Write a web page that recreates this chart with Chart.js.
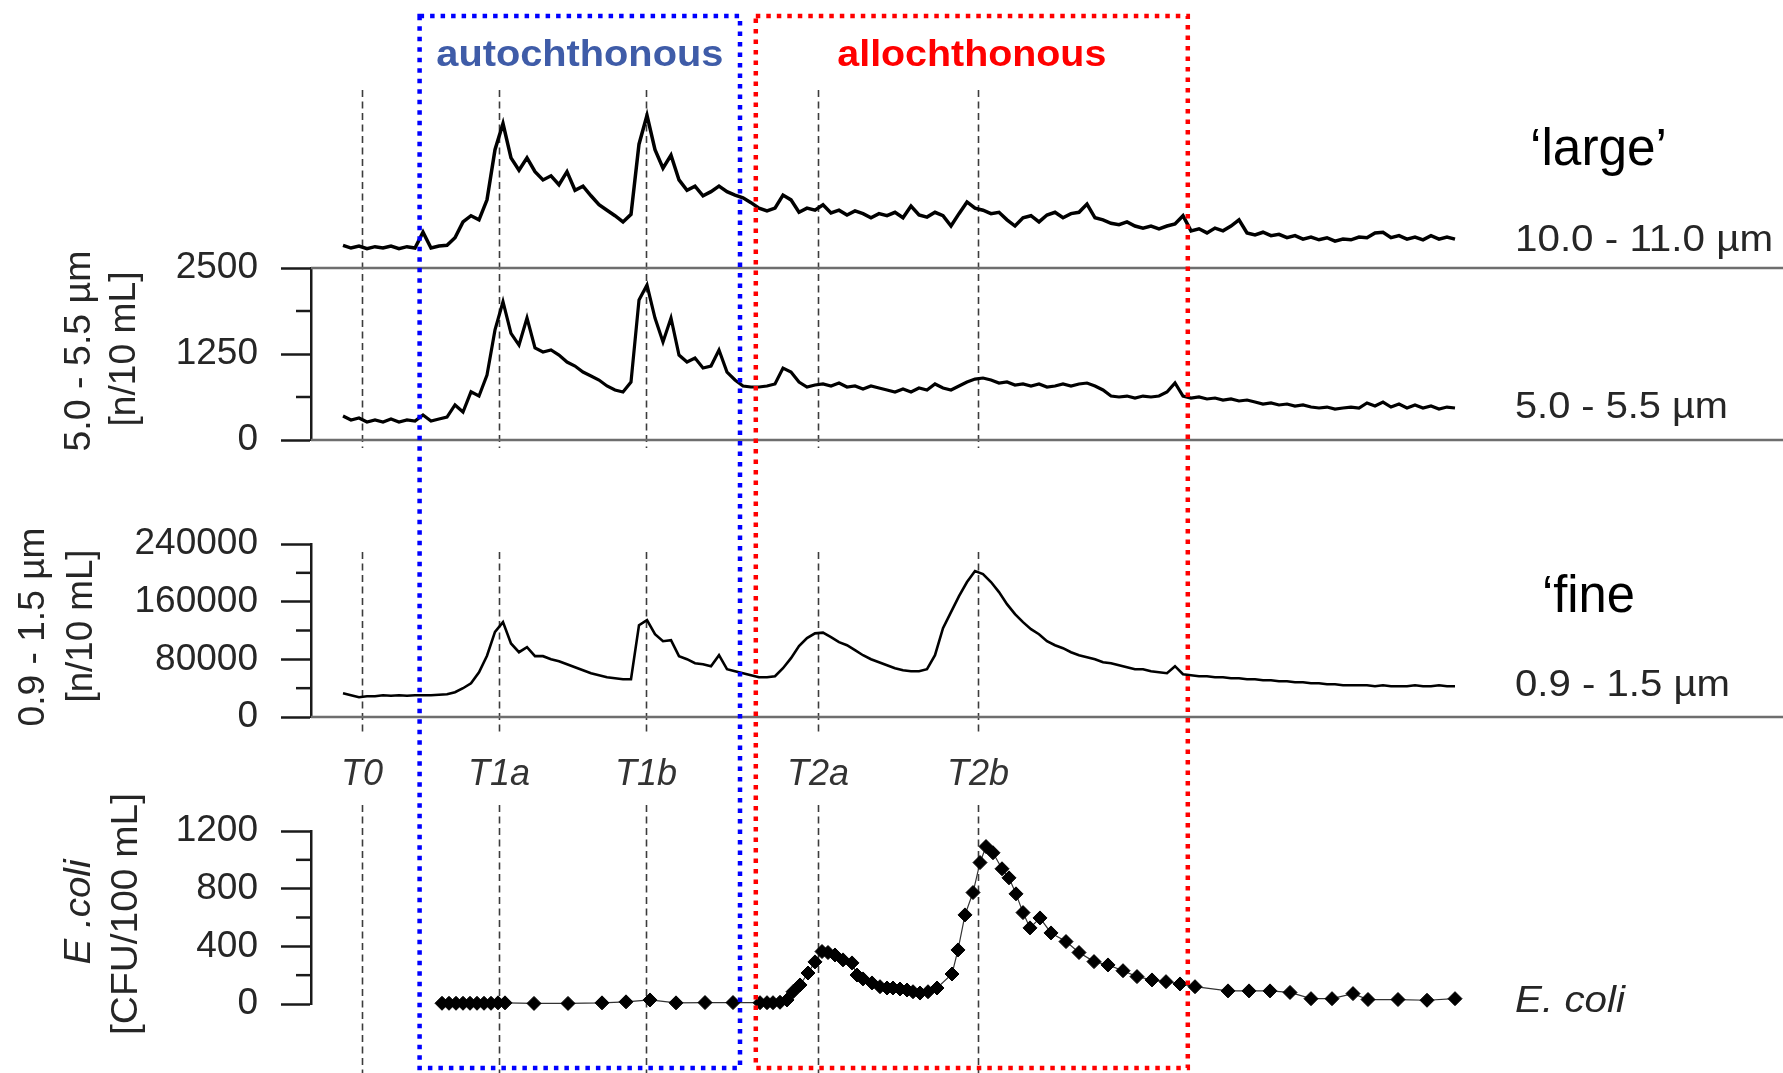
<!DOCTYPE html>
<html>
<head>
<meta charset="utf-8">
<script src="https://cdn.jsdelivr.net/npm/chart.js@4.4.1/dist/chart.umd.min.js"></script>
<style>
  html, body { margin: 0; padding: 0; background: #fff; }
  #chart { position: absolute; left: 0; top: 0; }
</style>
</head>
<body>
<canvas id="chart" width="1783" height="1073"></canvas>
<script>
// Tempo de amostragem (h) comum aos três contadores de partículas
const sampleHours = Array.from({ length: 140 }, (_, i) => +(i * 0.4).toFixed(1));

// 10.0 - 11.0 µm (sem eixo na figura)
const largeCounts = [
  33, 29, 32, 28, 31, 29, 32, 28, 31, 29,
  52, 29, 32, 33, 44, 67, 76, 70, 99, 172,
  210, 160, 142, 160, 140, 128, 134, 121, 140, 113,
  119, 105, 92, 84, 76, 67, 78, 180, 222, 172,
  145, 164, 128, 113, 119, 105, 111, 119, 111, 106,
  102, 95, 87, 83, 87, 106, 99, 81, 87, 84,
  92, 80, 84, 77, 83, 79, 73, 79, 76, 81,
  73, 90, 77, 74, 81, 76, 61, 79, 96, 87,
  84, 79, 81, 70, 61, 73, 76, 67, 77, 81,
  73, 79, 81, 93, 73, 70, 65, 63, 67, 61,
  58, 61, 57, 61, 64, 76, 54, 57, 51, 58,
  54, 61, 70, 51, 48, 52, 47, 49, 44, 47,
  42, 45, 41, 44, 39, 42, 41, 45, 44, 51,
  52, 44, 47, 42, 45, 41, 47, 42, 45, 42
];

// 5.0 - 5.5 µm [n/10 mL]
const mediumCounts = [
  349, 291, 320, 262, 291, 262, 305, 262, 291, 276,
  363, 276, 305, 334, 509, 407, 700, 640, 944, 1600,
  2010, 1550, 1380, 1773, 1337, 1279, 1308, 1235, 1133, 1075,
  988, 930, 872, 785, 727, 697, 843, 2034, 2252, 1773,
  1424, 1773, 1235, 1133, 1191, 1046, 1075, 1308, 988, 872,
  785, 770, 770, 785, 814, 1046, 988, 843, 770, 799,
  814, 785, 828, 770, 785, 741, 785, 756, 727, 697,
  741, 697, 756, 727, 814, 756, 727, 785, 843, 886,
  901, 872, 828, 843, 799, 814, 785, 814, 770, 785,
  814, 785, 814, 828, 785, 727, 639, 625, 639, 610,
  639, 625, 639, 697, 828, 639, 610, 625, 596, 610,
  581, 596, 567, 581, 552, 523, 538, 509, 523, 494,
  509, 479, 465, 479, 450, 465, 479, 465, 538, 494,
  552, 479, 523, 465, 509, 465, 494, 450, 479, 465
];

// 0.9 - 1.5 µm [n/10 mL]
const fineCounts = [
  32900, 30200, 27400, 28800, 28800, 30200, 29500, 30200, 29500, 30200,
  30200, 30200, 30900, 31500, 34300, 39900, 46800, 62000, 85000, 118000,
  131600, 102000, 89900, 96900, 84400, 84400, 80200, 77400, 73200, 69100,
  64900, 60700, 58000, 55200, 53800, 52400, 52400, 127400, 134400, 114900,
  105200, 106600, 84400, 80200, 74600, 73200, 70500, 85700, 66300, 63500,
  60700, 58000, 55200, 55200, 56600, 67700, 81600, 98300, 109400, 116000,
  117000, 110800, 103800, 99600, 92700, 85700, 80200, 76000, 71800, 67700,
  64900, 63500, 63500, 66300, 85700, 123300, 145500, 167700, 187200, 202500,
  198300, 187200, 173300, 156600, 142700, 131600, 121900, 114900, 105200, 99600,
  95500, 89900, 85700, 83000, 80200, 76000, 74600, 71800, 69100, 66300,
  66300, 63500, 62100, 60700, 70500, 59300, 58000, 56600, 56600, 55200,
  55200, 53800, 53800, 52400, 52400, 51000, 51000, 49600, 49600, 48200,
  48200, 46800, 46800, 45400, 45400, 44100, 44100, 44100, 44100, 42700,
  44100, 42700, 42700, 42700, 44100, 42700, 42700, 44100, 42700, 42700
];

// E. coli [CFU/100 mL]
const ecoliHours = [
  4.95, 5.3, 5.65, 6.0, 6.35, 6.7, 7.05, 7.4, 7.75, 8.1,
  9.55, 11.25, 12.95, 14.15, 15.35, 16.65, 18.1, 19.5,
  20.85, 21.2, 21.5, 21.85, 22.2, 22.5, 22.85, 23.25, 23.6, 23.95,
  24.25, 24.6, 25.0, 25.45, 25.7, 26.0, 26.45, 26.85, 27.2, 27.5,
  27.85, 28.2, 28.5, 28.85, 29.25, 29.7, 30.45, 30.75, 31.1, 31.5,
  31.85, 32.15, 32.5, 32.95, 33.3, 33.65, 34.0, 34.35, 34.85, 35.4,
  36.15, 36.8, 37.55, 38.25, 39.0, 39.7, 40.45, 41.15, 41.85, 42.6,
  44.25, 45.3, 46.35, 47.35, 48.4, 49.45, 50.5, 51.25, 52.75, 54.2, 55.6
];
const ecoliCfu = [
  5, 5, 5, 5, 5, 5, 5, 5, 8, 8,
  4, 4, 8, 15, 28, 8, 10, 10,
  9, 9, 9, 12, 28, 85, 132, 215, 292, 364,
  357, 340, 306, 285, 201, 174, 146, 120, 111, 111,
  104, 97, 85, 76, 85, 111, 208, 375, 618, 773,
  981, 1092, 1049, 938, 875, 764, 634, 528, 597, 493,
  433, 357, 294, 271, 231, 190, 167, 155, 139, 120,
  91, 91, 91, 80, 37, 37, 72, 31, 31, 26, 37
];

// Marcos temporais e períodos
const eventHours = [0.95, 7.8, 15.15, 23.75, 31.75];
const eventLabels = ['T0', 'T1a', 'T1b', 'T2a', 'T2b'];
const periodNames = ['autochthonous', 'allochthonous'];
const periodStart = [3.83, 20.64];
const periodEnd = [19.85, 42.24];

// Posições (px) dos painéis na figura
const px = {
  xLeft: 343, xRight: 1459, axisX: 311,
  bands: { yLarge: [96, 268], ySmall: [268, 440], yFine: [544, 717], yEcoli: [831, 1004] },
  eventSegments: [[90, 448], [552, 736], [805, 1073]],
  boxTop: 16, boxBottom: 1068
};

const FONT = '"Liberation Sans", Arial, sans-serif';
Chart.defaults.font.family = FONT;

function drawText(ctx, text, x, y, font, color, width, align, rotate) {
  ctx.save();
  ctx.font = font;
  ctx.fillStyle = color;
  ctx.textBaseline = 'alphabetic';
  ctx.textAlign = align || 'left';
  const w = ctx.measureText(text).width;
  ctx.translate(x, y);
  if (rotate) ctx.rotate(-Math.PI / 2);
  ctx.scale(width ? width / w : 1, 1);
  ctx.fillText(text, 0, 0);
  ctx.restore();
}

const panelPlugin = {
  id: 'panels',
  afterLayout(chart) {
    // área útil = figura inteira, senão os pontos à esquerda não são desenhados
    chart.chartArea = { left: 0, top: 0, right: chart.width, bottom: chart.height, width: chart.width, height: chart.height };
    const x = chart.scales.x;
    x.left = px.xLeft; x.right = px.xRight; x.width = px.xRight - px.xLeft;
    x.top = 1040; x.bottom = 1073; x.height = 33;
    x.configure();
    Object.entries(px.bands).forEach(([id, band]) => {
      const s = chart.scales[id];
      s.left = 0; s.right = px.axisX; s.width = px.axisX;
      s.top = band[0]; s.bottom = band[1]; s.height = band[1] - band[0];
      s.configure();
    });
  },
  beforeDatasetsDraw(chart) {
    const ctx = chart.ctx;
    const { x, ySmall, yFine, yEcoli } = chart.scales;

    // linhas tracejadas dos marcos T
    ctx.save();
    ctx.strokeStyle = '#3c3c3c';
    ctx.lineWidth = 1.6;
    ctx.setLineDash([7, 4.5]);
    eventHours.forEach(h => {
      const xp = Math.round(x.getPixelForValue(h)) + 0.5;
      px.eventSegments.forEach(seg => {
        ctx.beginPath();
        ctx.moveTo(xp, seg[0]);
        ctx.lineTo(xp, seg[1]);
        ctx.stroke();
      });
    });
    ctx.restore();

    // linhas horizontais cinzentas
    ctx.save();
    ctx.strokeStyle = '#6e6e6e';
    ctx.lineWidth = 2.5;
    [ySmall.getPixelForValue(2500), ySmall.getPixelForValue(0), yFine.getPixelForValue(0)].forEach(yp => {
      ctx.beginPath();
      ctx.moveTo(px.axisX, yp);
      ctx.lineTo(chart.width, yp);
      ctx.stroke();
    });

    // ticks menores
    ctx.strokeStyle = '#1a1a1a';
    [[ySmall, 1250], [yFine, 80000], [yEcoli, 400]].forEach(([s, major]) => {
      s.ticks.forEach(t => {
        if (t.value % major === 0) return;
        const yp = s.getPixelForValue(t.value);
        ctx.beginPath();
        ctx.moveTo(px.axisX - 15, yp);
        ctx.lineTo(px.axisX, yp);
        ctx.stroke();
      });
    });
    ctx.restore();

    // rótulos dos marcos
    eventLabels.forEach((lbl, i) => {
      drawText(ctx, lbl, x.getPixelForValue(eventHours[i]), 785, 'italic 36px ' + FONT, '#333', null, 'center');
    });

    // títulos dos eixos (rodados)
    const axisFont = '37px ' + FONT;
    drawText(ctx, '5.0 - 5.5 µm', 90, 351, axisFont, '#262626', 201, 'center', true);
    drawText(ctx, '[n/10 mL]', 135, 349, axisFont, '#262626', 155, 'center', true);
    drawText(ctx, '0.9 - 1.5 µm', 44, 627, axisFont, '#262626', 199, 'center', true);
    drawText(ctx, '[n/10 mL]', 92, 626, axisFont, '#262626', 153, 'center', true);
    drawText(ctx, 'E .coli', 90, 912, 'italic 37px ' + FONT, '#262626', 105, 'center', true);
    drawText(ctx, '[CFU/100 mL]', 137, 914, axisFont, '#262626', 242, 'center', true);

    // rótulos à direita
    drawText(ctx, '\u2018large\u2019', 1530, 165, '51px ' + FONT, '#000', 137);
    drawText(ctx, '10.0 - 11.0 µm', 1515, 251, axisFont, '#262626', 258);
    drawText(ctx, '5.0 - 5.5 µm', 1515, 418, axisFont, '#262626', 213);
    drawText(ctx, '\u2018fine', 1542, 612, '51px ' + FONT, '#000', 93);
    drawText(ctx, '0.9 - 1.5 µm', 1515, 696, axisFont, '#262626', 215);
    drawText(ctx, 'E. coli', 1515, 1012, 'italic 37px ' + FONT, '#262626', 110);
  },
  afterDraw(chart) {
    const ctx = chart.ctx;
    const x = chart.scales.x;
    const colors = ['#0000ff', '#ff0000'];
    const textColors = ['#3f5ca8', '#ff0000'];
    const textWidths = [287, 269];
    periodNames.forEach((name, i) => {
      const l = x.getPixelForValue(periodStart[i]);
      const r = x.getPixelForValue(periodEnd[i]);
      ctx.save();
      ctx.strokeStyle = colors[i];
      ctx.lineWidth = 4.5;
      ctx.setLineDash([4.5, 6]);
      ctx.strokeRect(l, px.boxTop, r - l, px.boxBottom - px.boxTop);
      ctx.restore();
      drawText(ctx, name, (l + r) / 2, 66, 'bold 37px ' + FONT, textColors[i], textWidths[i], 'center');
    });
  }
};

function yAxis(min, max, step, major) {
  return {
    type: 'linear', position: 'left', min: min, max: max,
    ticks: {
      stepSize: step, autoSkip: false, padding: 23, color: '#262626',
      font: { size: 37 },
      callback: v => (v % major === 0 ? String(v) : '')
    },
    grid: {
      drawOnChartArea: false, drawTicks: true, tickLength: 30, tickWidth: 2.5,
      tickColor: c => (c.tick && c.tick.value % major === 0 ? '#1a1a1a' : 'rgba(0,0,0,0)')
    },
    border: { display: true, color: '#1a1a1a', width: 2.5 }
  };
}

const traceStyle = { borderColor: '#000', pointRadius: 0, tension: 0, clip: false, fill: false };

new Chart(document.getElementById('chart').getContext('2d'), {
  type: 'line',
  data: {
    datasets: [
      Object.assign({ label: '10.0 - 11.0 µm', yAxisID: 'yLarge', borderWidth: 3.5,
        data: sampleHours.map((t, i) => ({ x: t, y: largeCounts[i] })) }, traceStyle),
      Object.assign({ label: '5.0 - 5.5 µm', yAxisID: 'ySmall', borderWidth: 3.2,
        data: sampleHours.map((t, i) => ({ x: t, y: mediumCounts[i] })) }, traceStyle),
      Object.assign({ label: '0.9 - 1.5 µm', yAxisID: 'yFine', borderWidth: 2.6,
        data: sampleHours.map((t, i) => ({ x: t, y: fineCounts[i] })) }, traceStyle),
      {
        label: 'E. coli', yAxisID: 'yEcoli', clip: false,
        data: ecoliHours.map((t, i) => ({ x: t, y: ecoliCfu[i] })),
        borderColor: '#333', borderWidth: 1.2, tension: 0,
        pointStyle: 'rectRot', pointRadius: 7,
        pointBackgroundColor: '#000', pointBorderColor: '#000', pointBorderWidth: 1
      }
    ]
  },
  options: {
    responsive: false,
    animation: false,
    devicePixelRatio: 1,
    layout: { padding: 0 },
    plugins: { legend: { display: false }, tooltip: { enabled: false } },
    scales: {
      x: { type: 'linear', min: 0, max: 55.8, display: false },
      yLarge: { type: 'linear', position: 'left', min: 0, max: 250, display: false },
      ySmall: yAxis(0, 2500, 625, 1250),
      yFine: yAxis(0, 240000, 40000, 80000),
      yEcoli: yAxis(0, 1200, 200, 400)
    }
  },
  plugins: [panelPlugin]
});
</script>
</body>
</html>
